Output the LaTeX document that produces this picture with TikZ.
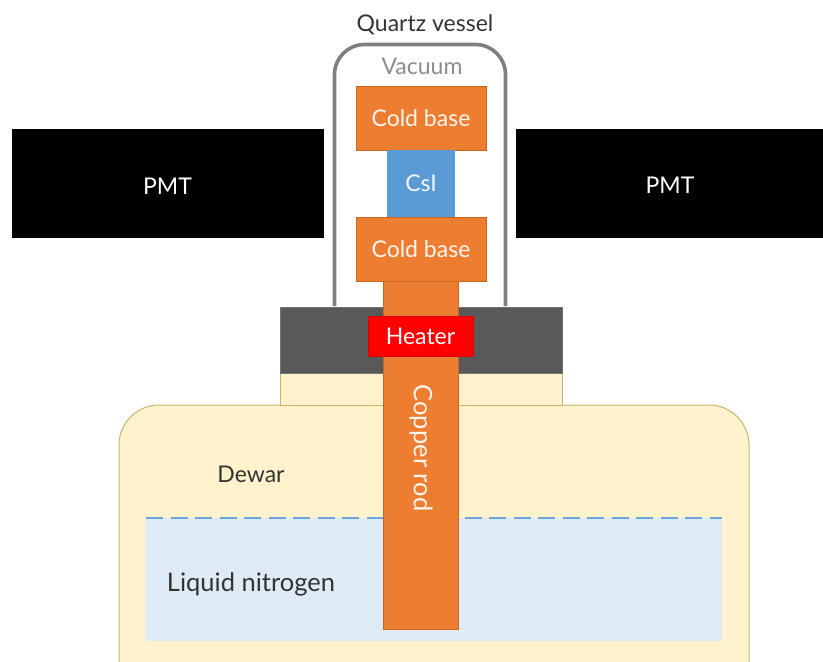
\documentclass[tikz,border=0pt]{standalone}
\usepackage{fontspec}
\setmainfont{Lato}
\usepackage{xcolor}
\usetikzlibrary{positioning}
\definecolor{copper}{HTML}{ED7D31}
\definecolor{copperedge}{HTML}{C8651F}
\definecolor{crystal}{HTML}{5B9BD5}
\definecolor{cream}{HTML}{FFF2CC}
\definecolor{creamedge}{HTML}{C9B46E}
\definecolor{nitrogen}{HTML}{DEEAF6}
\definecolor{flangegray}{HTML}{595959}
\definecolor{quartz}{HTML}{7F7F7F}
\definecolor{label}{HTML}{333333}
\tikzset{
  every node/.style={outer sep=0pt,inner sep=0pt,font=\fontsize{23}{26}\selectfont},
  pmtbox/.style={draw=black,fill=black,text=white,minimum height=108pt,text height=21pt},
  coldbase/.style={draw=copperedge,fill=copper,text=white!92!copper,minimum width=130pt,minimum height=64pt},
  crystalbox/.style={draw=crystal,fill=crystal,text=white!92!crystal,minimum width=67pt,minimum height=67pt},
  rodbox/.style={draw=copperedge,fill=copper,minimum width=75pt,minimum height=348pt},
  heaterbox/.style={draw=red!85!black,fill=red,text=white,minimum width=105pt,minimum height=40pt},
  flangebox/.style={draw=flangegray!85,fill=flangegray,minimum width=282pt,minimum height=66pt},
  neckbox/.style={draw=creamedge,fill=cream,minimum width=282pt,minimum height=32pt},
  liquidbox/.style={fill=nitrogen,minimum width=576pt,minimum height=123pt},
  plaintext/.style={text=label},
  widetext/.style={font=\fontsize{25.5}{28}\selectfont}
}
\begin{document}
\begin{tikzpicture}[x=1pt,y=-1pt]
  \useasboundingbox (0,0) rectangle (823,662);

  % dewar and liquid
  \draw[creamedge,line width=1pt,fill=cream,rounded corners=40pt] (119,760) -- (119,405) -- (749,405) -- (749,760) -- cycle;
  \node[liquidbox] (liquid) at (434,579.5) {};
  \draw[crystal!90!white,line width=2pt,dash pattern=on 17pt off 7.5pt] (liquid.north west) -- (liquid.north east);
  \node[neckbox] (neck) at (421,389) {};
  \node[flangebox,above=0pt of neck] (flange) {};

  % quartz vessel
  \draw[quartz,line width=3.6pt,rounded corners=30pt] (334.5,306) -- (334.5,44.5) -- (505.5,44.5) -- (505.5,306);

  \node[pmtbox,minimum width=311pt] (pmtleft) at (167.5,183.5) {PMT};
  \node[pmtbox,minimum width=308pt] (pmtright) at (670,183) {PMT};

  % cold stage
  \node[coldbase] (basetop) at (421,118) {Cold base};
  \node[crystalbox,below=0pt of basetop] (csi) {CsI};
  \node[coldbase,below=0pt of csi] (basebottom) {Cold base};
  \node[rodbox] (rod) at (420.5,455) {};
  \node[heaterbox] (heater) at (420.5,336) {Heater};
  \node[widetext,text=white!92!copper,rotate=-90] (rodtext) at (421,448) {Copper rod};

  \node[plaintext] (vessel) at (425,25) {Quartz vessel};
  \node[text=quartz!90] (vacuum) at (422,66) {Vacuum};
  \node[plaintext] (dewar) at (251,474) {Dewar};
  \node[plaintext,widetext] (nitrogenlabel) at (251,584) {Liquid nitrogen};
\end{tikzpicture}
\end{document}
